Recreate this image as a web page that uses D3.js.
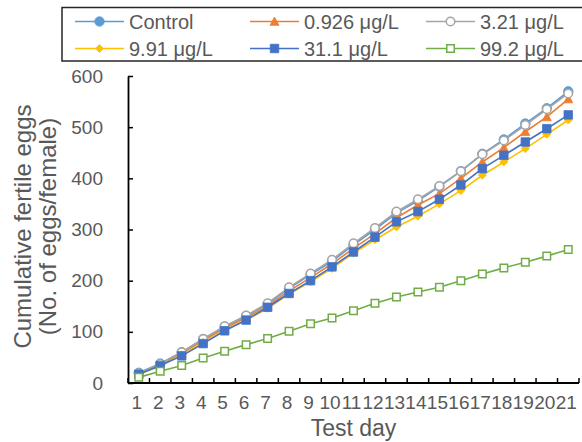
<!DOCTYPE html>
<html>
<head>
<meta charset="utf-8">
<script src="https://cdn.jsdelivr.net/npm/d3@7"></script>
<style>
  body { margin: 0; background: #fff; }
  svg { display: block; }
  text { font-family: "Liberation Sans", Arial, sans-serif; }
</style>
</head>
<body>
<svg id="chart" width="582" height="442"></svg>
<script>
// Test days (categories)
const days = [1, 2, 3, 4, 5, 6, 7, 8, 9, 10, 11, 12, 13, 14, 15, 16, 17, 18, 19, 20, 21];

// Cumulative fertile eggs per female, by exposure group
const control  = [20, 38, 60, 86, 110, 131, 154, 185, 212, 238, 270, 300, 332, 356, 384, 414, 448, 476, 507, 537, 570];
const conc0926 = [18, 35, 58, 83, 107, 128, 150, 180, 206, 233, 263, 292, 323, 348, 370, 400, 432, 460, 491, 520, 555];
const conc321  = [19, 37, 60, 86, 111, 132, 156, 187, 214, 241, 273, 303, 335, 359, 385, 414, 447, 474, 504, 535, 566];
const conc991  = [17, 33, 55, 79, 103, 123, 146, 174, 198, 224, 254, 280, 305, 326, 350, 376, 406, 432, 458, 486, 514];
const conc311  = [17, 34, 53, 77, 102, 123, 148, 175, 200, 227, 256, 285, 315, 335, 359, 387, 419, 445, 471, 497, 524];
const conc992  = [11, 23, 34, 49, 62, 75, 87, 101, 116, 127, 141, 156, 168, 178, 187, 200, 213, 225, 236, 248, 261];

const seriesNames = ["Control", "0.926 μg/L", "3.21 μg/L", "9.91 μg/L", "31.1 μg/L", "99.2 μg/L"];
const seriesValues = [control, conc0926, conc321, conc991, conc311, conc992];

// Y axis ticks
const yTicks = [0, 100, 200, 300, 400, 500, 600];

// Visual style per series: line colour, marker shape, marker fill/stroke
const styles = [
  { color: "#5B9BD5", shape: "circle",   fill: "#5B9BD5", stroke: "#5B9BD5" },
  { color: "#ED7D31", shape: "triangle", fill: "#ED7D31", stroke: "#ED7D31" },
  { color: "#A5A5A5", shape: "circle",   fill: "#FFFFFF", stroke: "#A5A5A5" },
  { color: "#FFC000", shape: "diamond",  fill: "#FFC000", stroke: "#FFC000" },
  { color: "#4472C4", shape: "square",   fill: "#4472C4", stroke: "#4472C4" },
  { color: "#70AD47", shape: "square",   fill: "#FFFFFF", stroke: "#70AD47" }
];

const series = seriesNames.map((name, i) => ({
  name,
  style: styles[i],
  points: days.map((d, j) => ({ day: d, value: seriesValues[i][j] }))
}));

const svg = d3.select("#chart");
const plot = { left: 128, right: 579, top: 76, bottom: 383 };

const x = d3.scaleBand().domain(days).range([plot.left, plot.right]).padding(0);
const y = d3.scaleLinear().domain([0, 600]).range([plot.bottom, plot.top]);
const cx = d => x(d) + x.bandwidth() / 2;

// Marker path builders
function markerPath(shape, s) {
  const h = s / 2;
  if (shape === "square") return `M${-h},${-h}H${h}V${h}H${-h}Z`;
  if (shape === "diamond") return `M0,${-h}L${h},0L0,${h}L${-h},0Z`;
  if (shape === "triangle") return `M0,${-h}L${h},${h * 0.85}L${-h},${h * 0.85}Z`;
  return d3.arc()({ innerRadius: 0, outerRadius: h, startAngle: 0, endAngle: 2 * Math.PI });
}
const markerSize = { circle: 9.5, triangle: 9, diamond: 8, square: 8.5 };

function drawMarker(g, style) {
  const open = style.fill === "#FFFFFF";
  const size = markerSize[style.shape] - (open ? 1 : 0);
  g.append("path")
    .attr("d", markerPath(style.shape, size))
    .attr("fill", style.fill)
    .attr("stroke", style.stroke)
    .attr("stroke-width", open ? 1.5 : 0.8);
}

// Axes
const axisColor = "#000";
const labelColor = "#595959";

// Y axis line + inward ticks + labels
const yAxis = svg.append("g").attr("transform", `translate(${plot.left},0)`)
  .call(d3.axisLeft(y).tickValues(yTicks).tickSizeInner(-5).tickSizeOuter(0).tickPadding(25));
yAxis.select(".domain").attr("stroke", axisColor).attr("stroke-width", 1.8);
yAxis.selectAll(".tick line").attr("stroke", axisColor).attr("stroke-width", 1.5);
yAxis.selectAll(".tick text").attr("fill", labelColor).style("font-size", "19px")
  .style("font-family", "'Liberation Sans', Arial, sans-serif");

// X axis: labels centred in categories, ticks between categories
const xAxis = svg.append("g").attr("transform", `translate(0,${plot.bottom})`)
  .call(d3.axisBottom(x).tickSize(0).tickPadding(13));
xAxis.select(".domain").remove();
xAxis.selectAll(".tick text").attr("fill", labelColor).style("font-size", "19px")
  .style("font-family", "'Liberation Sans', Arial, sans-serif").attr("dx", "-2");

const boundaries = days.map(d => x(d)).concat([x(days[days.length - 1]) + x.bandwidth()]);
svg.append("g").selectAll("line").data(boundaries).join("line")
  .attr("x1", d => d).attr("x2", d => d)
  .attr("y1", plot.bottom).attr("y2", plot.bottom - 5)
  .attr("stroke", axisColor).attr("stroke-width", 1.5);
svg.append("line")
  .attr("x1", plot.left).attr("x2", plot.right)
  .attr("y1", plot.bottom).attr("y2", plot.bottom)
  .attr("stroke", axisColor).attr("stroke-width", 1.8);

// Axis titles
svg.append("text")
  .attr("x", (plot.left + plot.right) / 2).attr("y", 436)
  .attr("text-anchor", "middle").attr("fill", labelColor)
  .style("font-size", "23px").text("Test day");

const yTitle = svg.append("text")
  .attr("transform", `translate(0,${(plot.top + plot.bottom) / 2 - 3}) rotate(-90)`)
  .attr("text-anchor", "middle").attr("fill", labelColor)
  .style("font-size", "24px");
yTitle.append("tspan").attr("x", 0).attr("y", 31).text("Cumulative fertile eggs");
yTitle.append("tspan").attr("x", 0).attr("y", 56).text("(No. of eggs/female)");

// Series lines and markers
const line = d3.line().x(p => cx(p.day)).y(p => y(p.value));
const seriesG = svg.append("g").selectAll("g").data(series).join("g");
seriesG.append("path")
  .attr("d", s => line(s.points))
  .attr("fill", "none")
  .attr("stroke", s => s.style.color)
  .attr("stroke-width", 1.6);
seriesG.each(function (s) {
  d3.select(this).selectAll("g.pt").data(s.points).join("g")
    .attr("class", "pt")
    .attr("transform", p => `translate(${cx(p.day)},${y(p.value)})`)
    .each(function () { drawMarker(d3.select(this), s.style); });
});

// Legend
const legend = svg.append("g");
legend.append("rect")
  .attr("x", 62).attr("y", 7.5).attr("width", 524).attr("height", 53.5)
  .attr("fill", "#fff").attr("stroke", "#262626").attr("stroke-width", 1.5);

const colX = [75, 250, 426];
const rowY = [21.5, 48.5];
const legendItems = legend.selectAll("g.item").data(series).join("g")
  .attr("class", "item")
  .attr("transform", (s, i) => `translate(${colX[i % 3]},${rowY[Math.floor(i / 3)]})`);
legendItems.append("line")
  .attr("x1", 0).attr("x2", 49).attr("y1", 0).attr("y2", 0)
  .attr("stroke", s => s.style.color).attr("stroke-width", 1.6);
legendItems.append("g").attr("transform", "translate(24.5,0)")
  .each(function (s) { drawMarker(d3.select(this), s.style); });
legendItems.append("text")
  .attr("x", 54).attr("y", 7)
  .attr("fill", labelColor)
  .style("font-size", "20px")
  .text(s => s.name);
</script>
</body>
</html>
